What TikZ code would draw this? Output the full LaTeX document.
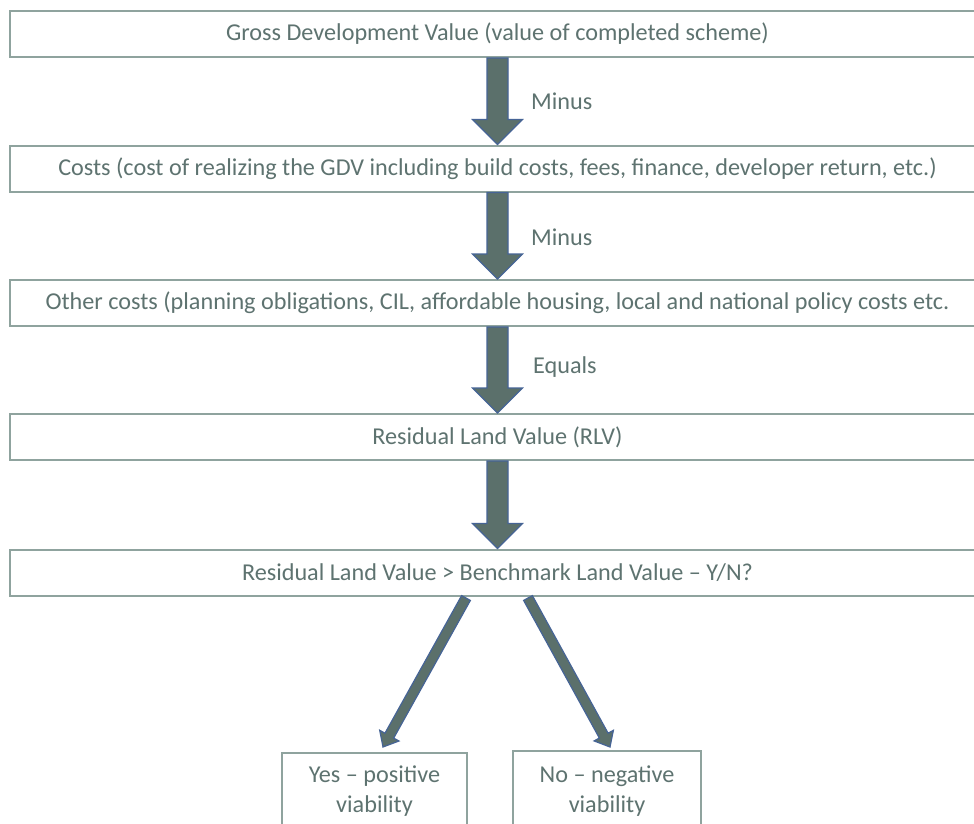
\documentclass[tikz,border=0pt]{standalone}
\usepackage{fontspec}
\setmainfont{Carlito}
\usetikzlibrary{calc}
\definecolor{txt}{RGB}{94,115,112}
\definecolor{boxline}{RGB}{143,163,158}
\definecolor{arrfill}{RGB}{91,112,107}
\definecolor{arrline}{RGB}{70,100,150}
\newcommand{\blockarrow}[5]{% start, tip, half shaft, half head, head length
  \fill[arrfill, draw=arrline, line width=1.2pt, line join=miter]
    ($(#1)!#3!90:(#2)$) -- ($($(#2)!#5!(#1)$)!#3!90:(#2)$) --
    ($($(#2)!#5!(#1)$)!#4!90:(#2)$) -- (#2) --
    ($($(#2)!#5!(#1)$)!#4!-90:(#2)$) -- ($($(#2)!#5!(#1)$)!#3!-90:(#2)$) --
    ($(#1)!#3!-90:(#2)$) -- cycle;}
\begin{document}
\begin{tikzpicture}[x=1pt,y=-1pt,
  every node/.style={font=\fontsize{24.2}{30}\selectfont, text=txt},
  box/.style={draw=boxline, line width=2pt, fill=white, minimum width=975pt, minimum height=46pt, inner sep=0pt, align=center},
  endbox/.style={draw=boxline, line width=2pt, fill=white, minimum height=90pt, inner sep=0pt, anchor=north},
  endtext/.style={inner sep=0pt, align=center},
  lbl/.style={anchor=west, inner sep=0pt}]
\useasboundingbox (0,0) rectangle (974,823);
\fill[white] (0,0) rectangle (974,823);
\clip (0,0) rectangle (974,823);
\node[box] (b1) at (497.5,34) {Gross Development Value (value of completed scheme)};
\node[box] (b2) at (497.5,168.5) {Costs (cost of realizing the GDV including build costs, fees, finance, developer return, etc.)};
\node[box] (b3) at (497.5,303) {Other costs (planning obligations, CIL, affordable housing, local and national policy costs etc.};
\node[box] (b4) at (497.5,437) {Residual Land Value (RLV)};
\node[box] (b5) at (497.5,572.5) {Residual Land Value > Benchmark Land Value -- Y/N?};
\node[endbox, minimum width=185pt] (yes) at (374.5,752) {};
\node[endbox, minimum width=188pt] (no) at (607,750) {};
\node[endtext] (yest) at (374.5,791) {Yes -- positive\\viability};
\node[endtext] (not) at (607,791) {No -- negative\\viability};
\coordinate (dl) at (466,598);
\coordinate (dr) at (528,598);
\coordinate (tl) at (383,747);
\coordinate (tr) at (610,747);
\blockarrow{b1.south}{b2.north}{10.5pt}{25pt}{25pt}
\blockarrow{b2.south}{b3.north}{10.5pt}{25pt}{25pt}
\blockarrow{b3.south}{b4.north}{10.5pt}{25pt}{25pt}
\blockarrow{b4.south}{b5.north}{10.5pt}{25pt}{25pt}
\blockarrow{dl}{tl}{5pt}{11pt}{13pt}
\blockarrow{dr}{tr}{5pt}{11pt}{13pt}
\node[lbl] (m1) at (531,101) {Minus};
\node[lbl] (m2) at (531,237) {Minus};
\node[lbl] (m3) at (533,367) {Equals};
\end{tikzpicture}
\end{document}
